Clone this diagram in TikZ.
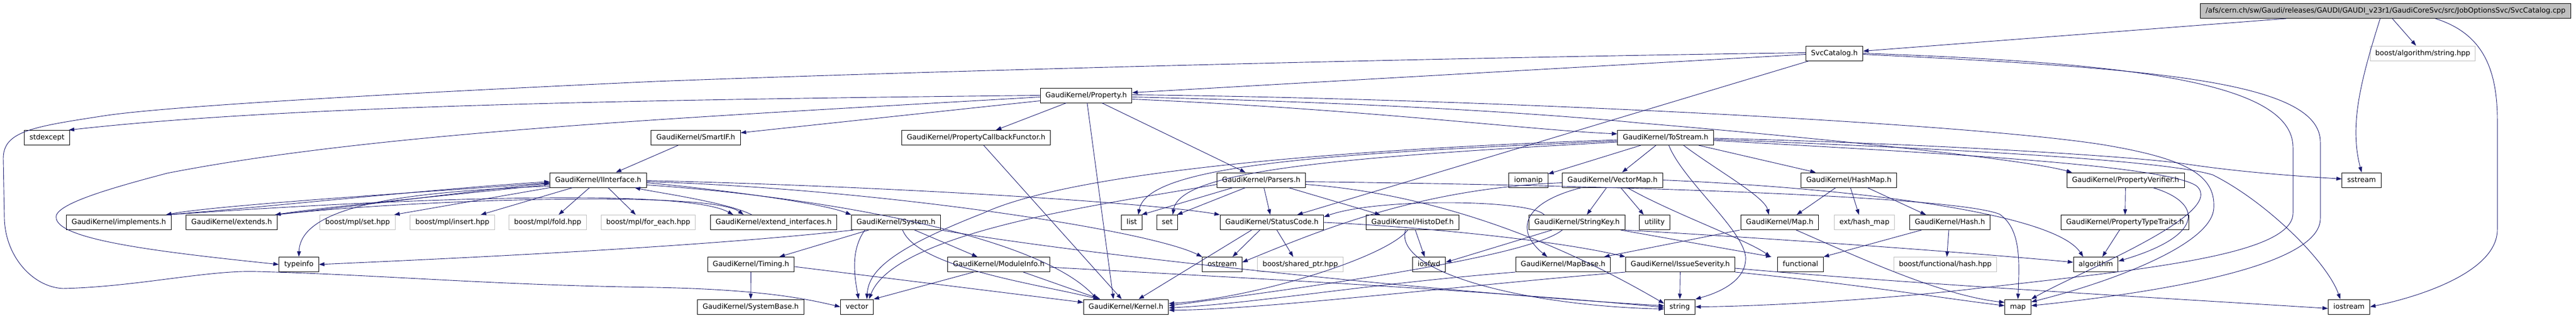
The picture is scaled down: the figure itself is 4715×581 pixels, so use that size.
\documentclass[tikz,border=0pt]{standalone}
\usepackage{fontspec}
\setmainfont{DejaVu Sans}
\usetikzlibrary{arrows.meta}
\definecolor{edgeblue}{HTML}{191970}
\definecolor{boxgray}{HTML}{BFBFBF}

\begin{document}
\begin{tikzpicture}[
  x=1pt, y=-1pt,
  incfile/.style={draw=black, fill=white, line width=1pt, font=\fontsize{13}{15}\selectfont,
    inner xsep=9.5pt, inner ysep=0pt, text height=9.5pt, text depth=2.5pt, minimum height=27pt},
  extfile/.style={incfile, draw=boxgray},
  mainfile/.style={incfile, fill=boxgray},
  dep/.style={draw=edgeblue, line width=0.9pt, -{Triangle[length=10pt,width=7pt]}}
]
\useasboundingbox (0,0) rectangle (4715,581);

% rank 0 and 1
\node[mainfile] (root) at (4366.5,20) {/afs/cern.ch/sw/Gaudi/releases/GAUDI/GAUDI\_v23r1/GaudiCoreSvc/src/JobOptionsSvc/SvcCatalog.cpp};
\node[incfile] (svccat) at (3357.5,97.5) {SvcCatalog.h};
\node[extfile] (algstr) at (4434.5,97.5) {boost/algorithm/string.hpp};
% rank 2 and 3
\node[incfile] (property) at (1988,174.5) {GaudiKernel/Property.h};
\node[incfile] (stdexcept) at (86,252) {stdexcept};
\node[incfile] (smartif) at (1273.5,252) {GaudiKernel/SmartIF.h};
\node[incfile] (propcb) at (1786.5,252) {GaudiKernel/PropertyCallbackFunctor.h};
\node[incfile] (tostream) at (3048.5,252) {GaudiKernel/ToStream.h};
% rank 4
\node[incfile] (iinterface) at (1095,329.5) {GaudiKernel/IInterface.h};
\node[incfile] (parsers) at (2308.5,329.5) {GaudiKernel/Parsers.h};
\node[incfile] (iomanip) at (2797.5,329.5) {iomanip};
\node[incfile] (vectormap) at (2951.5,329.5) {GaudiKernel/VectorMap.h};
\node[incfile] (hashmap) at (3384,329.5) {GaudiKernel/HashMap.h};
\node[incfile] (propverif) at (3890.5,329.5) {GaudiKernel/PropertyVerifier.h};
\node[incfile] (sstream) at (4322.5,329.5) {sstream};
% rank 5
\node[incfile] (implements) at (217.5,407) {GaudiKernel/implements.h};
\node[incfile] (extends) at (424,407) {GaudiKernel/extends.h};
\node[extfile] (mplset) at (654.5,407) {boost/mpl/set.hpp};
\node[extfile] (mplinsert) at (828,407) {boost/mpl/insert.hpp};
\node[extfile] (mplfold) at (1002.5,407) {boost/mpl/fold.hpp};
\node[extfile] (mplforeach) at (1186.5,407) {boost/mpl/for\_each.hpp};
\node[incfile] (extendif) at (1416,407) {GaudiKernel/extend\_interfaces.h};
\node[incfile] (system) at (1640,407) {GaudiKernel/System.h};
\node[incfile] (list) at (2071.5,407) {list};
\node[incfile] (set) at (2136.5,407) {set};
\node[incfile] (statuscode) at (2328,407) {GaudiKernel/StatusCode.h};
\node[incfile] (histodef) at (2585.5,407) {GaudiKernel/HistoDef.h};
\node[incfile] (stringkey) at (2886.5,407) {GaudiKernel/StringKey.h};
\node[incfile] (utility) at (3028.5,407) {utility};
\node[incfile] (mapH) at (3257.5,407) {GaudiKernel/Map.h};
\node[extfile] (exthashmap) at (3412.5,407) {ext/hash\_map};
\node[incfile] (hash) at (3569,407) {GaudiKernel/Hash.h};
\node[incfile] (proptraits) at (3889.5,407) {GaudiKernel/PropertyTypeTraits.h};
% rank 6
\node[incfile] (typeinfo) at (547,484) {typeinfo};
\node[incfile] (timing) at (1374.5,484) {GaudiKernel/Timing.h};
\node[incfile] (moduleinfo) at (1828,484) {GaudiKernel/ModuleInfo.h};
\node[incfile] (ostream) at (2237,484) {ostream};
\node[extfile] (sharedptr) at (2380,484) {boost/shared\_ptr.hpp};
\node[incfile] (iosfwd) at (2615.5,484) {iosfwd};
\node[incfile] (mapbase) at (2861,484) {GaudiKernel/MapBase.h};
\node[incfile] (issuesev) at (3075.5,484) {GaudiKernel/IssueSeverity.h};
\node[incfile] (functional) at (3295.5,484) {functional};
\node[extfile] (boosthash) at (3560.5,484) {boost/functional/hash.hpp};
\node[incfile] (algorithm) at (3836,484) {algorithm};
% rank 7
\node[incfile] (systembase) at (1374,561.5) {GaudiKernel/SystemBase.h};
\node[incfile] (vector) at (1568.5,561.5) {vector};
\node[incfile] (kernel) at (2061,561.5) {GaudiKernel/Kernel.h};
\node[incfile] (string) at (3074.5,561.5) {string};
\node[incfile] (map) at (3693.5,561.5) {map};
\node[incfile] (iostream) at (4299.5,561.5) {iostream};

% SvcCatalog.cpp
\draw[dep] (root) -- (svccat);
\draw[dep] (root) -- (algstr);
\draw[dep] ([xshift=-10pt]root.south) .. controls (4320,150) and (4300,230) .. (sstream.north);
\draw[dep] ([xshift=91pt]root.south) .. controls (4540,60) and (4571,120) .. (4571,220) -- (4571,420) .. controls (4571,500) and (4420,545) .. (iostream.east);
% SvcCatalog.h
\draw[dep] ([yshift=-2pt]svccat.west) -- ([yshift=5pt]property.east);
\draw[dep] ([yshift=1pt]svccat.west) .. controls (2600,106) and (1700,130) .. (1200,149) .. controls (700,172) and (300,195) .. (190,212) .. controls (60,232) and (6,240) .. (6,290) -- (8,400) .. controls (10,470) and (60,525) .. (115,528) .. controls (250,525) and (380,494) .. (470,497) .. controls (700,503) and (900,522) .. (1200,526) .. controls (1400,530) and (1480,548) .. (vector.west);
\draw[dep] (svccat) -- (statuscode);
\draw[dep] (svccat.east) .. controls (3900,115) and (4197,150) .. (4197,270) -- (4197,390) .. controls (4197,470) and (3900,495) .. (3600,530) .. controls (3400,552) and (3200,561) .. (string.east);
\draw[dep] ([yshift=-2pt]svccat.east) .. controls (3950,125) and (4247,150) .. (4247,260) -- (4247,400) .. controls (4247,480) and (4000,530) .. ([yshift=2pt]map.east);
% Property.h
\draw[dep] (property.west) .. controls (1100,183) and (500,196) .. ([xshift=-2pt]stdexcept.north east);
\draw[dep] ([yshift=-3pt]property.west) .. controls (1300,213) and (700,240) .. (306,317) .. controls (200,345) and (95,375) .. (103,400) .. controls (110,440) and (300,462) .. (typeinfo.west);
\draw[dep] ([yshift=-10pt]property.west) -- ([yshift=9pt]smartif.east);
\draw[dep] (property) -- (propcb);
\draw[dep] (property) -- ([xshift=-23pt]kernel.north);
\draw[dep] (property) -- (parsers);
\draw[dep] ([yshift=-7pt]property.east) .. controls (2500,200) and (2800,238) .. ([yshift=7pt]tostream.west);
\draw[dep] ([yshift=-3pt]property.east) .. controls (2600,190) and (2900,215) .. (3000,225) .. controls (3300,250) and (3700,290) .. ([xshift=-98pt]propverif.north);
\draw[dep] ([yshift=1pt]property.east) .. controls (2700,180) and (3600,225) .. (3850,265) .. controls (4000,290) and (4055,320) .. (4052,380) .. controls (4050,450) and (3850,520) .. ([yshift=9pt]map.east);
\draw[dep] (smartif) -- (iinterface);
\draw[dep] ([xshift=14pt]propcb.south) -- ([xshift=-8pt]kernel.north);
% ToStream.h
\draw[dep] (tostream) -- (iomanip);
\draw[dep] (tostream) -- (vectormap);
\draw[dep] (tostream) -- (hashmap);
\draw[dep] ([xshift=33pt]tostream.south) .. controls (3140,310) and (3230,360) .. ([xshift=-20pt]mapH.north);
\draw[dep] ([xshift=6pt]tostream.south) .. controls (3080,330) and (3190,420) .. (3195,470) .. controls (3198,520) and (3130,540) .. (string.north east);
\draw[dep] ([yshift=-4pt]tostream.west) .. controls (2400,275) and (1950,320) .. (1800,390) .. controls (1620,460) and (1590,500) .. ([xshift=18pt]vector.north);
\draw[dep] ([yshift=-6pt]tostream.west) .. controls (2450,280) and (2100,300) .. ([xshift=12pt]list.north);
\draw[dep] ([yshift=-8pt]tostream.west) .. controls (2450,288) and (2160,312) .. ([xshift=10pt]set.north);
\draw[dep] ([yshift=-1pt]tostream.east) .. controls (3500,262) and (3900,285) .. (4000,300) .. controls (4100,315) and (4200,322) .. ([yshift=2pt]sstream.west);
\draw[dep] ([yshift=-3pt]tostream.east) .. controls (3500,270) and (3950,290) .. (4050,320) .. controls (4150,370) and (4260,480) .. ([xshift=-16pt]iostream.north);
\draw[dep] ([yshift=-5pt]tostream.east) .. controls (3500,278) and (3960,300) .. (4020,340) .. controls (4080,390) and (3800,500) .. (map.north east);
% Parsers.h
\draw[dep] ([xshift=-52pt]parsers.south) -- ([xshift=18pt]list.north);
\draw[dep] ([xshift=-29pt]parsers.south) -- ([xshift=18pt]set.north);
\draw[dep] ([xshift=5pt]parsers.south) -- ([xshift=-3pt]statuscode.north);
\draw[dep] ([xshift=50pt]parsers.south) -- ([xshift=-59pt]histodef.north);
\draw[dep] ([yshift=-8pt]parsers.west) .. controls (2050,370) and (1640,420) .. ([xshift=22pt]vector.north);
\draw[dep] ([yshift=-8pt]parsers.east) .. controls (2700,360) and (2950,500) .. ([yshift=6pt]string.west);
\draw[dep] ([yshift=-3pt]parsers.east) .. controls (3000,340) and (3580,360) .. (3660,392) .. controls (3700,420) and (3696,480) .. (map.north);
% IInterface.h and friends
\draw[dep] ([yshift=-5pt]iinterface.west) .. controls (800,350) and (400,375) .. ([xshift=-10pt]implements.north east);
\draw[dep] ([yshift=-8pt]iinterface.west) .. controls (850,355) and (600,378) .. ([xshift=-4pt]extends.north east);
\draw[dep] ([yshift=-11pt]iinterface.west) .. controls (800,350) and (550,365) .. (typeinfo.north);
\draw[dep] (iinterface.south west) -- ([xshift=-2pt]mplset.north east);
\draw[dep] ([xshift=-47pt]iinterface.south) -- ([xshift=52pt]mplinsert.north);
\draw[dep] ([xshift=-16pt]iinterface.south) -- ([xshift=20pt]mplfold.north);
\draw[dep] ([xshift=18pt]iinterface.south) -- ([xshift=-23pt]mplforeach.north);
\draw[dep] ([yshift=-5pt]iinterface.east) .. controls (1300,345) and (1500,370) .. (system.north west);
\draw[dep] ([yshift=-1pt]iinterface.east) .. controls (1600,340) and (2100,370) .. (statuscode.north west);
\draw[dep] ([yshift=-3pt]iinterface.east) .. controls (1600,345) and (2100,420) .. (ostream.north west);
\draw[dep] ([yshift=-9pt]iinterface.east) .. controls (1500,360) and (1900,430) .. ([xshift=-53pt]kernel.north);
\draw[dep] ([xshift=-8pt]implements.north east) .. controls (500,378) and (800,345) .. ([yshift=-3pt]iinterface.west);
\draw[dep] ([xshift=-4pt]extends.north east) .. controls (700,372) and (900,345) .. ([yshift=-6pt]iinterface.west);
\draw[dep] ([xshift=-4pt]implements.north east) .. controls (700,365) and (1250,342) .. ([xshift=-74pt]extendif.north);
\draw[dep] ([xshift=-2pt]extends.north east) .. controls (750,365) and (1300,348) .. ([xshift=-55pt]extendif.north);
\draw[dep] ([xshift=-40pt]extendif.north) .. controls (1330,370) and (1200,352) .. ([xshift=-22pt]iinterface.south east);
% System.h
\draw[dep] ([xshift=-50pt]system.south) -- ([xshift=52pt]timing.north);
\draw[dep] ([xshift=34pt]system.south) -- ([xshift=-39pt]moduleinfo.north);
\draw[dep] ([xshift=-57pt]system.south) .. controls (1555,460) and (1565,510) .. ([xshift=3pt]vector.north);
\draw[dep] ([xshift=12pt]system.south) .. controls (1680,490) and (1900,520) .. ([xshift=-50pt]kernel.north);
\draw[dep] ([xshift=-78pt]system.south) .. controls (1300,450) and (900,470) .. (typeinfo.east);
\draw[dep] (system.south east) .. controls (2000,470) and (2700,540) .. ([yshift=2pt]string.west);
\draw[dep] (timing) -- (systembase);
\draw[dep] ([yshift=-4pt]timing.east) -- ([yshift=8pt]kernel.west);
\draw[dep] ([xshift=-46pt]moduleinfo.south) -- (vector.north east);
\draw[dep] ([xshift=45pt]moduleinfo.south) -- ([xshift=-47pt]kernel.north);
\draw[dep] ([yshift=-5pt]moduleinfo.east) .. controls (2300,510) and (2700,530) .. ([yshift=-1pt]string.west);
% StatusCode.h, HistoDef.h, StringKey.h
\draw[dep] ([xshift=-37pt]statuscode.south) -- ([xshift=23pt]kernel.north);
\draw[dep] ([xshift=-22pt]statuscode.south) -- ([xshift=19pt]ostream.north);
\draw[dep] ([xshift=9pt]statuscode.south) -- ([xshift=-13pt]sharedptr.north);
\draw[dep] (statuscode.east) .. controls (2600,415) and (2850,440) .. (issuesev.north west);
\draw[dep] ([xshift=5pt]histodef.south) -- ([xshift=-8pt]iosfwd.north);
\draw[dep] ([xshift=-13pt]histodef.south) .. controls (2550,500) and (2800,560) .. ([yshift=-4pt]string.west);
\draw[dep] ([xshift=-9pt]histodef.south) .. controls (2540,470) and (2300,545) .. ([yshift=6pt]kernel.east);
\draw[dep] ([xshift=-46pt]stringkey.south) -- ([yshift=4pt]iosfwd.east);
\draw[dep] ([xshift=-27pt]stringkey.south) .. controls (2800,470) and (2400,525) .. ([yshift=2pt]kernel.east);
\draw[dep] ([xshift=80pt]stringkey.south) -- ([xshift=-53pt]functional.north);
\draw[dep] (stringkey.south east) .. controls (3300,440) and (3600,462) .. ([yshift=4pt]algorithm.west);
\draw[dep] ([xshift=-60pt]stringkey.north) .. controls (2800,365) and (2520,362) .. ([yshift=10pt]statuscode.east);
% VectorMap.h
\draw[dep] ([xshift=-57pt]vectormap.south) .. controls (2790,370) and (2770,420) .. ([xshift=-29pt]mapbase.north);
\draw[dep] ([xshift=-11pt]vectormap.south) -- ([xshift=18pt]stringkey.north);
\draw[dep] ([xshift=15pt]vectormap.south) -- ([xshift=-20pt]utility.north);
\draw[dep] ([xshift=27pt]vectormap.south) .. controls (3060,390) and (3200,440) .. ([xshift=-55pt]functional.north);
\draw[dep] ([yshift=-5pt]vectormap.west) .. controls (2600,345) and (2420,420) .. ([yshift=4pt]ostream.east);
\draw[dep] (vectormap.east) .. controls (3400,345) and (3760,390) .. ([xshift=-23pt]algorithm.north);
% Map.h, HashMap.h, Hash.h
\draw[dep] ([xshift=-73pt]mapH.south) -- ([xshift=75pt]mapbase.north);
\draw[dep] ([xshift=30pt]mapH.south) .. controls (3400,470) and (3550,540) .. ([yshift=8pt]map.west);
\draw[dep] ([xshift=-24pt]hashmap.south) -- ([xshift=31pt]mapH.north);
\draw[dep] ([xshift=3pt]hashmap.south) -- ([xshift=-10pt]exthashmap.north);
\draw[dep] ([xshift=34pt]hashmap.south) -- ([xshift=-44pt]hash.north);
\draw[dep] ([xshift=-52pt]hash.south) -- (functional.north east);
\draw[dep] ([xshift=-2pt]hash.south) -- ([xshift=3pt]boosthash.north);
% MapBase.h, IssueSeverity.h
\draw[dep] (mapbase.south west) .. controls (2500,520) and (2300,555) .. ([yshift=-2pt]kernel.east);
\draw[dep] (issuesev) -- (string);
\draw[dep] (issuesev.south west) .. controls (2700,520) and (2300,568) .. ([yshift=-6pt]kernel.east);
\draw[dep] ([yshift=-7pt]issuesev.east) .. controls (3500,520) and (4000,548) .. ([yshift=-3pt]iostream.west);
\draw[dep] (issuesev.south east) .. controls (3400,520) and (3550,545) .. ([yshift=2pt]map.west);
% PropertyVerifier.h
\draw[dep] (propverif) -- (proptraits);
\draw[dep] ([xshift=50pt]propverif.south) .. controls (4030,370) and (4040,430) .. ([yshift=6pt]algorithm.east);
\draw[dep] ([xshift=-10pt]proptraits.south) -- ([xshift=12pt]algorithm.north);
\end{tikzpicture}
\end{document}
